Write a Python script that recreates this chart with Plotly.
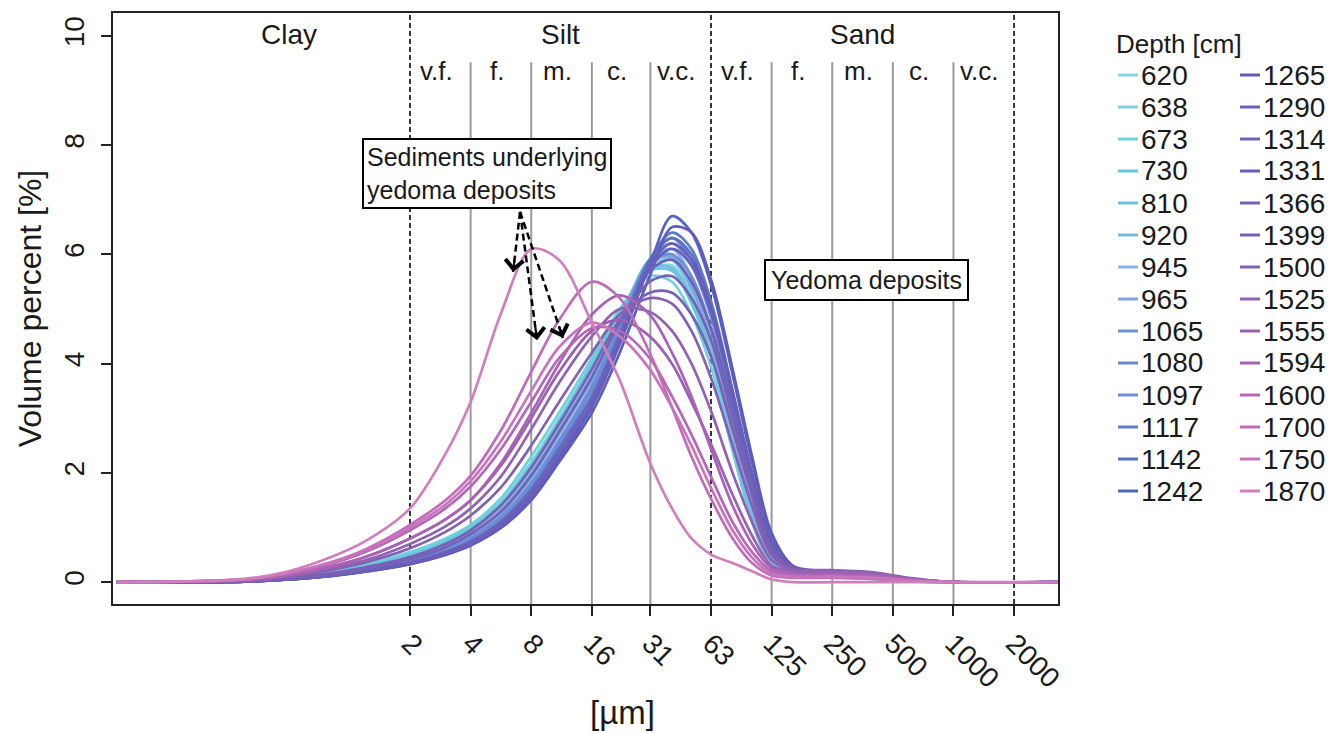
import numpy as np
import plotly.graph_objects as go

# ---------------- data ----------------
size_um = [0.07, 0.3, 0.5, 0.8, 1.2, 2, 3, 4, 5.7, 8, 11, 16, 22, 31, 40, 50, 63,
           80, 100, 125, 160, 250, 400, 600, 1000, 3300]

depths = [620, 638, 673, 730, 810, 920, 945, 965, 1065, 1080, 1097, 1117, 1142, 1242,
          1265, 1290, 1314, 1331, 1366, 1399, 1500, 1525, 1555, 1594, 1600, 1700, 1750, 1870]

colors = ['#86d6de', '#7fcfdc', '#6fd0de', '#62c8da', '#6cc2de', '#78bae2', '#88b2e8', '#7fa6e0',
          '#6f92d2', '#6888cf', '#6d8ed6', '#5f7cca', '#5a72c6', '#5465bf',
          '#5e5cba', '#6660ba', '#6d62b8', '#6a5cba', '#7462b6', '#7a60b4', '#8460b2', '#9062b4',
          '#9a60b2', '#a962b6', '#b466b8', '#c06cba', '#c874ba', '#d07ebe']

v620  = [0, 0.02, 0.08, 0.18, 0.30, 0.50, 0.75, 1.00, 1.50, 2.20, 3.00, 4.00, 4.90, 5.70, 5.80, 5.20, 4.20, 2.60, 1.20, 0.35, 0.15, 0.12, 0.08, 0.03, 0, 0]
v638  = [0, 0.02, 0.08, 0.17, 0.28, 0.48, 0.72, 0.95, 1.40, 2.10, 2.90, 3.90, 4.90, 5.80, 5.90, 5.30, 4.30, 2.70, 1.30, 0.40, 0.15, 0.12, 0.08, 0.03, 0, 0]
v673  = [0, 0.02, 0.09, 0.20, 0.32, 0.55, 0.80, 1.05, 1.55, 2.30, 3.10, 4.10, 5.00, 5.60, 5.50, 4.90, 3.90, 2.40, 1.10, 0.30, 0.12, 0.10, 0.06, 0.02, 0, 0]
v730  = [0, 0.02, 0.08, 0.18, 0.30, 0.50, 0.75, 1.00, 1.45, 2.15, 2.95, 4.00, 4.95, 5.70, 5.70, 5.10, 4.10, 2.55, 1.20, 0.35, 0.14, 0.10, 0.06, 0.02, 0, 0]
v810  = [0, 0.02, 0.07, 0.16, 0.27, 0.45, 0.68, 0.92, 1.35, 2.00, 2.80, 3.80, 4.80, 5.90, 6.00, 5.40, 4.40, 2.80, 1.35, 0.40, 0.16, 0.12, 0.08, 0.03, 0, 0]
v920  = [0, 0.02, 0.08, 0.17, 0.28, 0.47, 0.70, 0.95, 1.40, 2.05, 2.85, 3.85, 4.85, 5.75, 5.75, 5.20, 4.20, 2.60, 1.25, 0.38, 0.15, 0.11, 0.07, 0.03, 0, 0]
v945  = [0, 0.02, 0.07, 0.15, 0.25, 0.42, 0.63, 0.86, 1.28, 1.90, 2.70, 3.70, 4.80, 5.90, 6.10, 5.60, 4.60, 3.00, 1.50, 0.45, 0.17, 0.13, 0.08, 0.03, 0, 0]
v965  = [0, 0.02, 0.07, 0.16, 0.26, 0.44, 0.66, 0.90, 1.32, 1.95, 2.75, 3.75, 4.80, 5.85, 5.95, 5.40, 4.40, 2.80, 1.40, 0.42, 0.16, 0.12, 0.08, 0.03, 0, 0]
v1065 = [0, 0.02, 0.06, 0.14, 0.24, 0.40, 0.60, 0.82, 1.22, 1.82, 2.60, 3.60, 4.70, 5.90, 6.20, 5.80, 4.80, 3.20, 1.60, 0.50, 0.18, 0.14, 0.09, 0.03, 0, 0]
v1080 = [0, 0.02, 0.06, 0.13, 0.22, 0.38, 0.57, 0.78, 1.16, 1.75, 2.50, 3.50, 4.60, 5.90, 6.30, 5.90, 4.90, 3.30, 1.70, 0.55, 0.20, 0.15, 0.10, 0.04, 0, 0]
v1097 = [0, 0.02, 0.06, 0.14, 0.23, 0.40, 0.60, 0.80, 1.20, 1.80, 2.55, 3.55, 4.65, 5.85, 6.00, 5.60, 4.60, 3.10, 1.60, 0.50, 0.18, 0.14, 0.09, 0.03, 0, 0]
v1117 = [0, 0.01, 0.05, 0.12, 0.20, 0.35, 0.53, 0.73, 1.10, 1.65, 2.40, 3.35, 4.50, 5.90, 6.40, 6.10, 5.10, 3.50, 1.90, 0.65, 0.22, 0.16, 0.10, 0.04, 0, 0]
v1142 = [0, 0.01, 0.05, 0.12, 0.21, 0.36, 0.55, 0.75, 1.12, 1.70, 2.45, 3.40, 4.55, 5.90, 6.30, 6.00, 5.00, 3.40, 1.80, 0.60, 0.20, 0.15, 0.10, 0.04, 0, 0]
v1242 = [0, 0.01, 0.05, 0.11, 0.19, 0.33, 0.50, 0.68, 1.02, 1.55, 2.25, 3.20, 4.35, 5.80, 6.70, 6.40, 5.40, 3.80, 2.20, 0.85, 0.28, 0.18, 0.12, 0.05, 0, 0]
v1265 = [0, 0.01, 0.05, 0.11, 0.19, 0.33, 0.50, 0.67, 1.00, 1.50, 2.20, 3.10, 4.20, 5.60, 6.50, 6.40, 5.50, 3.90, 2.30, 0.90, 0.30, 0.20, 0.13, 0.05, 0, 0]
v1290 = [0, 0.01, 0.05, 0.12, 0.20, 0.35, 0.52, 0.70, 1.05, 1.58, 2.30, 3.25, 4.40, 5.75, 6.10, 5.80, 4.90, 3.40, 1.90, 0.70, 0.25, 0.18, 0.12, 0.05, 0, 0]
v1314 = [0, 0.01, 0.05, 0.12, 0.21, 0.36, 0.55, 0.74, 1.10, 1.65, 2.38, 3.35, 4.50, 5.70, 5.90, 5.50, 4.60, 3.20, 1.80, 0.65, 0.25, 0.20, 0.14, 0.06, 0, 0]
v1331 = [0, 0.01, 0.05, 0.11, 0.20, 0.34, 0.52, 0.70, 1.05, 1.58, 2.30, 3.25, 4.40, 5.80, 6.20, 5.90, 5.00, 3.50, 2.00, 0.75, 0.27, 0.20, 0.13, 0.05, 0, 0]
v1366 = [0, 0.02, 0.06, 0.14, 0.24, 0.42, 0.64, 0.88, 1.30, 1.95, 2.75, 3.75, 4.75, 5.50, 5.60, 5.20, 4.40, 3.00, 1.70, 0.60, 0.25, 0.20, 0.15, 0.06, 0, 0]
v1399 = [0, 0.02, 0.07, 0.16, 0.27, 0.46, 0.70, 0.95, 1.42, 2.10, 2.90, 3.90, 4.80, 5.30, 5.30, 4.90, 4.10, 2.80, 1.60, 0.55, 0.25, 0.20, 0.15, 0.06, 0, 0]
v1500 = [0, 0.03, 0.10, 0.22, 0.36, 0.62, 0.92, 1.22, 1.75, 2.50, 3.30, 4.20, 4.90, 5.20, 5.10, 4.60, 3.70, 2.50, 1.40, 0.50, 0.25, 0.22, 0.18, 0.08, 0, 0]
v1525 = [0, 0.03, 0.11, 0.25, 0.40, 0.70, 1.02, 1.35, 1.95, 2.80, 3.65, 4.50, 5.00, 4.95, 4.60, 4.00, 3.10, 2.00, 1.10, 0.40, 0.22, 0.20, 0.16, 0.07, 0, 0]
v1555 = [0, 0.04, 0.13, 0.28, 0.46, 0.80, 1.15, 1.50, 2.15, 3.00, 3.85, 4.60, 4.80, 4.50, 4.00, 3.30, 2.50, 1.60, 0.85, 0.30, 0.20, 0.18, 0.15, 0.06, 0, 0]
v1594 = [0, 0.04, 0.13, 0.28, 0.46, 0.80, 1.15, 1.50, 2.20, 3.10, 4.00, 4.90, 5.25, 4.90, 4.20, 3.40, 2.40, 1.40, 0.70, 0.25, 0.15, 0.14, 0.12, 0.05, 0, 0]
v1600 = [0, 0.05, 0.16, 0.33, 0.55, 0.95, 1.35, 1.75, 2.45, 3.30, 4.10, 4.65, 4.60, 4.10, 3.40, 2.70, 1.90, 1.10, 0.55, 0.20, 0.12, 0.12, 0.10, 0.04, 0, 0]
v1700 = [0, 0.05, 0.17, 0.36, 0.60, 1.05, 1.50, 1.95, 2.80, 3.85, 4.80, 5.50, 5.20, 4.20, 3.20, 2.30, 1.50, 0.80, 0.35, 0.12, 0.08, 0.08, 0.06, 0.02, 0, 0]
v1750 = [0, 0.05, 0.17, 0.35, 0.58, 1.00, 1.42, 1.85, 2.60, 3.50, 4.30, 4.75, 4.50, 3.90, 3.20, 2.50, 1.70, 0.95, 0.45, 0.15, 0.10, 0.10, 0.08, 0.03, 0, 0]
v1870 = [0, 0.06, 0.20, 0.45, 0.75, 1.35, 2.35, 3.30, 4.95, 6.10, 5.90, 4.75, 3.70, 2.20, 1.35, 0.80, 0.50, 0.35, 0.20, 0.05, 0, 0, 0, 0, 0, 0]

series = [v620, v638, v673, v730, v810, v920, v945, v965, v1065, v1080, v1097, v1117, v1142, v1242,
          v1265, v1290, v1314, v1331, v1366, v1399, v1500, v1525, v1555, v1594, v1600, v1700, v1750, v1870]

tick_vals = [2, 4, 8, 16, 31.25, 62.5, 125, 250, 500, 1000, 2000]
tick_text = ['2', '4', '8', '16', '31', '63', '125', '250', '500', '1000', '2000']
main_bounds = [2, 62.5, 2000]
sub_bounds = [4, 8, 16, 31.25, 125, 250, 500, 1000]
main_labels = ['Clay', 'Silt', 'Sand']
sub_labels = ['v.f.', 'f.', 'm.', 'c.', 'v.c.', 'v.f.', 'f.', 'm.', 'c.', 'v.c.']

# ---------------- geometry ----------------
W, H = 1337, 733
L, R, T, B = 113, 1058, 13, 604
XR = [np.log10(0.067), np.log10(3305)]
YR = [-0.4, 10.42]
FONT = 'Liberation Sans, Arial, Helvetica, sans-serif'
TXT = '#1a1a1a'

def px_x(p):
    return (p - L) / (R - L)

def px_y(p):
    return (B - p) / (B - T)

fig = go.Figure()

# class boundary lines
for b in sub_bounds:
    fig.add_trace(go.Scatter(x=[b, b], y=[YR[0], 9.52], mode='lines',
                             line=dict(color='#9a9a9a', width=2), showlegend=False, hoverinfo='skip'))
for b in main_bounds:
    fig.add_trace(go.Scatter(x=[b, b], y=[YR[0], YR[1]], mode='lines',
                             line=dict(color='#333333', width=2, dash='5px,3px'), showlegend=False, hoverinfo='skip'))

# curves
for d, c, s in zip(depths, colors, series):
    fig.add_trace(go.Scatter(x=size_um, y=s, mode='lines', name=str(d),
                             line=dict(color=c, width=2.7, shape='spline', smoothing=0.9),
                             showlegend=False))

# arrows (dashed shafts + open heads)
arrow_start = (7.04, 6.78)
arrow_tips = [(6.5, 5.68), (8.55, 4.43), (11.5, 4.47)]
arrow_tail_px = [(1.6, -13.9), (-1.8, -13.9), (-4.5, -13.2)]
for (tx, ty), (ax, ay) in zip(arrow_tips, arrow_tail_px):
    fig.add_trace(go.Scatter(x=[arrow_start[0], tx], y=[arrow_start[1], ty], mode='lines',
                             line=dict(color='black', width=2.5, dash='7px,4px'),
                             showlegend=False, hoverinfo='skip'))
    fig.add_annotation(x=np.log10(tx), y=ty, xref='x', yref='y', text='', showarrow=True,
                       ax=ax, ay=ay, arrowhead=4, arrowsize=1.6, arrowwidth=2.2, arrowcolor='black')

# class labels
main_x = [0.5, np.sqrt(main_bounds[0] * main_bounds[1]), np.sqrt(main_bounds[1] * main_bounds[2])]
for lab, xv in zip(main_labels, main_x):
    fig.add_annotation(x=np.log10(xv), y=px_y(34), xref='x', yref='paper', text=lab,
                       xanchor='center', yanchor='middle',
                       showarrow=False, font=dict(family=FONT, size=28, color=TXT))
edges = [2] + sub_bounds[:4] + [62.5] + sub_bounds[4:] + [2000]
for i, lab in enumerate(sub_labels):
    xm = np.sqrt(edges[i] * edges[i + 1])
    fig.add_annotation(x=np.log10(xm), y=px_y(71), xref='x', yref='paper', text=lab, xshift=-4,
                       xanchor='center', yanchor='middle',
                       showarrow=False, font=dict(family=FONT, size=26, color=TXT))

# boxes
fig.add_annotation(x=px_x(487), y=px_y(174), xref='paper', yref='paper',
                   xanchor='center', yanchor='middle',
                   text='Sediments underlying<br>yedoma deposits', align='left', showarrow=False,
                   font=dict(family=FONT, size=25, color=TXT), bgcolor='white',
                   bordercolor='black', borderwidth=2, borderpad=3)
fig.add_annotation(x=px_x(866), y=px_y(280), xref='paper', yref='paper',
                   xanchor='center', yanchor='middle',
                   text='Yedoma deposits', showarrow=False,
                   font=dict(family=FONT, size=25, color=TXT), bgcolor='white',
                   bordercolor='black', borderwidth=2, borderpad=5)

# x title
fig.add_annotation(x=px_x(622), y=px_y(712), xref='paper', yref='paper', text='[µm]',
                   xanchor='center', yanchor='middle',
                   showarrow=False, font=dict(family=FONT, size=33, color=TXT))

# manual two-column legend
fig.add_annotation(x=px_x(1114), y=px_y(44), xref='paper', yref='paper', text='Depth [cm]',
                   xanchor='left', yanchor='middle', showarrow=False,
                   font=dict(family=FONT, size=26, color=TXT))
for i, (d, c) in enumerate(zip(depths, colors)):
    col, row = divmod(i, 14)
    sx = 1118 if col == 0 else 1240
    yy = 75 + 32 * row
    fig.add_shape(type='line', xref='paper', yref='paper', x0=px_x(sx), x1=px_x(sx + 20),
                  y0=px_y(yy), y1=px_y(yy), line=dict(color=c, width=3))
    fig.add_annotation(x=px_x(sx + 21), y=px_y(yy), xref='paper', yref='paper', text=str(d),
                       xanchor='left', yanchor='middle', showarrow=False,
                       font=dict(family=FONT, size=28, color=TXT))

fig.update_layout(
    width=W, height=H,
    margin=dict(l=L, r=W - R, t=T, b=H - B),
    paper_bgcolor='white', plot_bgcolor='white',
    font=dict(family=FONT, color=TXT),
    showlegend=False,
    xaxis=dict(type='log', range=XR, tickvals=tick_vals, ticktext=tick_text, tickangle=45,
               ticks='outside', ticklen=10, tickwidth=2, tickcolor='#222',
               showline=True, linewidth=2, linecolor='#222', mirror=True,
               showgrid=False, zeroline=False, tickfont=dict(size=28, color=TXT)),
    yaxis=dict(range=YR, tickvals=[0, 2, 4, 6, 8, 10], tickangle=-90,
               ticks='outside', ticklen=10, tickwidth=2, tickcolor='#222',
               showline=True, linewidth=2, linecolor='#222', mirror=True,
               showgrid=False, zeroline=False, tickfont=dict(size=28, color=TXT),
               ticklabelstandoff=6,
               title=dict(text='Volume percent [%]', font=dict(size=32, color=TXT), standoff=8)),
)

fig.write_html('out.html')
